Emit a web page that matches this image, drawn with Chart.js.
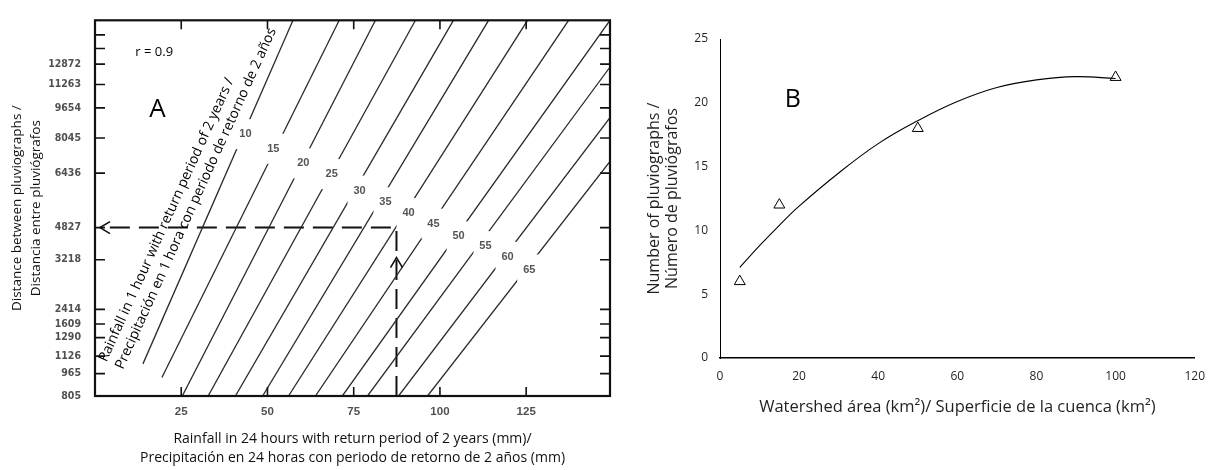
<!DOCTYPE html>
<html><head><meta charset="utf-8">
<script src="https://cdn.jsdelivr.net/npm/chart.js@4.4.1/dist/chart.umd.min.js"></script>
<style>
html,body{margin:0;padding:0;background:#fff;}
#wrap{position:relative;width:1216px;height:470px;overflow:hidden;background:#fff;}
#cA{position:absolute;left:0;top:0;}
#cB{position:absolute;left:620px;top:0;}
</style></head><body>
<div id="wrap"><canvas id="cA" width="620" height="470"></canvas><canvas id="cB" width="596" height="470"></canvas></div>
<script>
// ---------------- Panel A data ----------------
const rain24Ticks = [25, 50, 75, 100, 125];
const distanceTickLabels = ['805','965','1126','1290','1609','2414','3218','4827','6436','8045','9654','11263','12872','',''];
const distanceTickPos   = [0, 23, 41, 60, 74, 89, 140, 173, 229, 265, 296, 320, 341, 357, 371];
const rain1hValues = [10, 15, 20, 25, 30, 35, 40, 45, 50, 55, 60, 65];
const lineStartX = [13.9, 19.4, 25.3, 32.8, 40.7, 48.6, 56.1, 63.9, 71.7, 79.0, 88.0, 96.4];
const lineStartY = [33, 19, 0, 0, 0, 0, 0, 0, 0, 0, 0, 0];
const lineEndX   = [57.4, 70.8, 81.3, 92.9, 103.9, 114.1, 125.4, 137.3, 149.3, 149.3, 149.3, 149.3];
const lineEndY   = [386, 386, 386, 386, 386, 386, 386, 386, 386, 338, 286, 241];
const lineLabelX = [43.6, 51.7, 60.4, 68.6, 76.7, 84.2, 90.9, 98.1, 105.4, 113.2, 119.6, 125.9];
const lineLabelY = [269, 254, 239, 228, 211, 199, 188, 177, 164, 154, 143, 130];
const exampleRain24 = 87.4;
const exampleDistanceIndex = 7; // 4827
const correlationText = 'r = 0.9';

// ---------------- Panel B data ----------------
const areaObs   = [5, 15, 50, 100];
const pluvioObs = [6, 12, 18, 22];
const fitArea   = [5, 10, 15, 20, 30, 40, 50, 60, 70, 80, 90, 100];
const fitPluvio = [7.1, 8.8, 10.4, 11.9, 14.5, 16.8, 18.6, 20.1, 21.2, 21.8, 22.05, 21.9];

const SANS = '"Open Sans", "Noto Sans", sans-serif';
const SCAN = '"Liberation Sans", Arial, sans-serif';
const NARROW = '"Liberation Sans Narrow", "DejaVu Sans Condensed", "Liberation Sans", sans-serif';

const panelAPlugin = {
  id: 'panelA',
  afterDatasetsDraw(chart) {
    const {ctx, chartArea: a, scales: {x, y}} = chart;
    ctx.save();
    // line labels with white gaps
    ctx.font = 'bold 11px ' + SCAN;
    ctx.textAlign = 'center'; ctx.textBaseline = 'middle';
    rain1hValues.forEach((v, i) => {
      const px = x.getPixelForValue(lineLabelX[i]);
      const py = y.getPixelForValue(lineLabelY[i]);
      ctx.fillStyle = '#fff';
      ctx.fillRect(px - 12, py - 15, 24, 30);
      ctx.fillStyle = '#555';
      ctx.fillText(String(v), px, py);
    });
    // frame
    ctx.strokeStyle = '#111';
    ctx.lineWidth = 2.2;
    ctx.strokeRect(a.left, a.top, a.right - a.left, a.bottom - a.top);
    // inward ticks
    ctx.lineWidth = 1.6;
    ctx.beginPath();
    distanceTickPos.forEach((p, i) => {
      if (i === 0) return;
      const py = y.getPixelForValue(p);
      ctx.moveTo(a.left, py); ctx.lineTo(a.left + 10, py);
      ctx.moveTo(a.right, py); ctx.lineTo(a.right - 10, py);
    });
    rain24Ticks.forEach(t => {
      const px = x.getPixelForValue(t);
      ctx.moveTo(px, a.top); ctx.lineTo(px, a.top + 9);
      ctx.moveTo(px, a.bottom); ctx.lineTo(px, a.bottom - 9);
    });
    ctx.stroke();
    // arrow heads
    const ay = y.getPixelForValue(distanceTickPos[exampleDistanceIndex]);
    const ax = x.getPixelForValue(exampleRain24);
    ctx.lineWidth = 1.6;
    ctx.beginPath();
    ctx.moveTo(a.left + 15, ay - 6); ctx.lineTo(a.left + 5, ay); ctx.lineTo(a.left + 15, ay + 6);
    ctx.moveTo(ax - 6, ay + 40); ctx.lineTo(ax, ay + 30); ctx.lineTo(ax + 6, ay + 40);
    ctx.stroke();
    // annotations
    ctx.fillStyle = '#000';
    ctx.textAlign = 'left'; ctx.textBaseline = 'middle';
    ctx.font = '13px ' + SANS;
    ctx.fillText(correlationText, x.getPixelForValue(11.7), y.getPixelForValue(353));
    ctx.textAlign = 'center';
    ctx.font = '26px ' + SANS;
    ctx.fillText('A', x.getPixelForValue(18.1), y.getPixelForValue(294));
    // rotated label
    ctx.translate(x.getPixelForValue(2.3), y.getPixelForValue(36));
    ctx.rotate(-65.7 * Math.PI / 180);
    ctx.textAlign = 'left';
    ctx.font = '14px ' + SANS;
    ctx.fillText('Rainfall in 1 hour with return period of 2 years /', 0, 0);
    ctx.fillText('Precipitación en 1 hora con periodo de retorno de 2 años', 0, 18);
    ctx.restore();
  }
};

const lineDatasets = rain1hValues.map((v, i) => ({
  label: v + ' mm',
  data: [{x: lineStartX[i], y: lineStartY[i]}, {x: lineEndX[i], y: lineEndY[i]}],
  showLine: true, borderColor: '#2a2a2a', borderWidth: 1.3, pointRadius: 0, fill: false
}));
lineDatasets.push({
  label: 'example',
  data: [{x: exampleRain24, y: 0},
         {x: exampleRain24, y: distanceTickPos[exampleDistanceIndex]},
         {x: 1.6, y: distanceTickPos[exampleDistanceIndex]}],
  showLine: true, borderColor: '#111', borderWidth: 2, borderDash: [20, 9], pointRadius: 0, fill: false
});

new Chart(document.getElementById('cA'), {
  type: 'scatter',
  data: {datasets: lineDatasets},
  options: {
    responsive: false, animation: false, devicePixelRatio: 1,
    layout: {padding: {left: 0, right: 10, top: 10, bottom: 0}},
    plugins: {legend: {display: false}, tooltip: {enabled: false}},
    scales: {
      x: {
        type: 'linear', min: 0, max: 149.3,
        afterBuildTicks: s => { s.ticks = rain24Ticks.map(v => ({value: v})); },
        afterFit: s => { s.height = 74; },
        grid: {display: false, drawTicks: false}, border: {display: false},
        ticks: {padding: 9, color: '#505050', autoSkip: false, maxRotation: 0,
                font: {family: SCAN, size: 11.5, weight: 'bold'}},
        title: {display: true,
                text: ['Rainfall in 24 hours with return period of 2 years (mm)/',
                       'Precipitación en 24 horas con periodo de retorno de 2 años (mm)'],
                padding: {top: 0, bottom: 2.5}, color: '#111',
                font: {family: SANS, size: 14, lineHeight: 1.38}}
      },
      y: {
        type: 'linear', min: 0, max: 386,
        afterBuildTicks: s => { s.ticks = distanceTickPos.map(v => ({value: v})); },
        afterFit: s => { s.width = 95; },
        grid: {display: false, drawTicks: false}, border: {display: false},
        ticks: {padding: 14, color: '#505050', autoSkip: false,
                callback: (v, i) => distanceTickLabels[i],
                font: {family: NARROW, size: 10.5, weight: 'bold'}},
        title: {display: true,
                text: ['Distance between pluviographs /', 'Distancia entre pluviógrafos'],
                padding: {top: 7.2, bottom: 0}, color: '#111',
                font: {family: SANS, size: 13.5, lineHeight: 1.45}}
      }
    }
  },
  plugins: [panelAPlugin]
});

// ---------------- Panel B ----------------
const panelBPlugin = {
  id: 'panelB',
  afterDatasetsDraw(chart) {
    const {ctx, scales: {x, y}} = chart;
    ctx.save();
    ctx.fillStyle = '#000';
    ctx.font = '25px ' + SANS;
    ctx.textAlign = 'center'; ctx.textBaseline = 'middle';
    ctx.fillText('B', x.getPixelForValue(18.4), y.getPixelForValue(20.2));
    ctx.restore();
  }
};

new Chart(document.getElementById('cB'), {
  type: 'scatter',
  data: {datasets: [
    {label: 'fit', data: fitArea.map((v, i) => ({x: v, y: fitPluvio[i]})),
     showLine: true, borderColor: '#000', borderWidth: 1.1, pointRadius: 0,
     tension: 0.4, fill: false},
    {label: 'observed', data: areaObs.map((v, i) => ({x: v, y: pluvioObs[i]})),
     showLine: false, pointStyle: 'triangle', pointRadius: 6.3, borderWidth: 1,
     borderColor: '#000', backgroundColor: 'rgba(255,255,255,0)'}
  ]},
  options: {
    responsive: false, animation: false, devicePixelRatio: 1,
    layout: {padding: {left: 0, right: 19, top: 39, bottom: 0}},
    plugins: {legend: {display: false}, tooltip: {enabled: false}},
    scales: {
      x: {
        type: 'linear', min: 0, max: 120,
        ticks: {stepSize: 20, padding: 11, color: '#231f20', maxRotation: 0,
                font: {family: SANS, size: 12}},
        afterFit: s => { s.height = 112; },
        grid: {display: false, drawTicks: false},
        border: {display: true, color: '#000', width: 1.6},
        title: {display: true,
                text: 'Watershed área (km²)/ Superficie de la cuenca (km²)',
                padding: {top: 0, bottom: 53}, color: '#231f20',
                font: {family: SANS, size: 16.5}}
      },
      y: {
        type: 'linear', min: 0, max: 25,
        ticks: {stepSize: 5, padding: 12, color: '#231f20', font: {family: SANS, size: 12}},
        afterFit: s => { s.width = 100; },
        grid: {display: false, drawTicks: false},
        border: {display: true, color: '#000', width: 1},
        title: {display: true,
                text: ['Number of pluviographs /', 'Número de pluviógrafos'],
                padding: {top: 25, bottom: 0}, color: '#231f20',
                font: {family: SANS, size: 16, lineHeight: 1.15}}
      }
    }
  },
  plugins: [panelBPlugin]
});
</script>
</body></html>
